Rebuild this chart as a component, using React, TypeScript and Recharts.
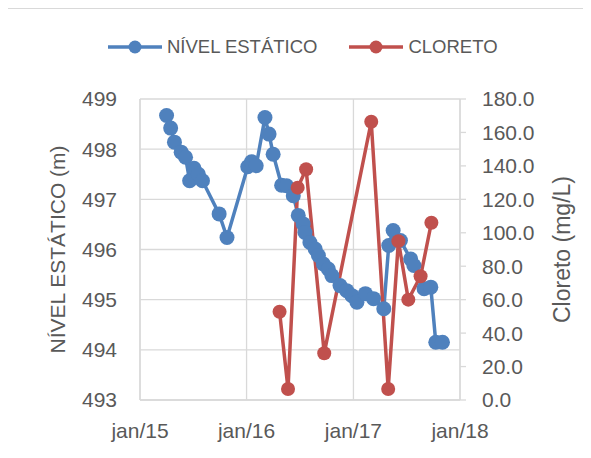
import { LineChart, Line, XAxis, YAxis, CartesianGrid } from 'recharts';

// nível estático (m), eixo da esquerda
const nivelDates = [
  '2015-04-02', '2015-04-16', '2015-04-29', '2015-05-22', '2015-06-06',
  '2015-06-20', '2015-07-05', '2015-07-20', '2015-08-03', '2015-09-29',
  '2015-10-26', '2016-01-05', '2016-01-18', '2016-02-03', '2016-03-04',
  '2016-03-18', '2016-04-01', '2016-04-30', '2016-05-17', '2016-06-09',
  '2016-06-26', '2016-07-13', '2016-07-19', '2016-08-05', '2016-08-23',
  '2016-09-03', '2016-09-20', '2016-10-07', '2016-10-19', '2016-11-16',
  '2016-12-09', '2016-12-27', '2017-01-13', '2017-02-11', '2017-03-11',
  '2017-04-15', '2017-05-02', '2017-05-17', '2017-06-11', '2017-07-16',
  '2017-07-27', '2017-08-31', '2017-09-23', '2017-10-10', '2017-11-02',
];
const nivelValues = [
  498.67, 498.42, 498.14, 497.94, 497.84,
  497.37, 497.62, 497.5, 497.37, 496.71,
  496.24, 497.65, 497.75, 497.67, 498.63,
  498.3, 497.9, 497.28, 497.27, 497.07,
  496.68, 496.51, 496.34, 496.14, 496.01,
  495.88, 495.71, 495.61, 495.48, 495.28,
  495.18, 495.08, 494.95, 495.12, 495.02,
  494.82, 496.08, 496.38, 496.18, 495.81,
  495.68, 495.22, 495.25, 494.15, 494.15,
];

// cloreto (mg/L), eixo da direita
const cloretoDates = [
  '2016-04-23', '2016-05-22', '2016-06-24', '2016-07-23', '2016-09-23',
  '2017-03-03', '2017-04-30', '2017-06-04', '2017-07-08', '2017-08-19',
  '2017-09-25',
];
const cloretoValues = [52.8, 6.6, 127, 138, 28, 166.4, 6.6, 95, 60, 74, 106];

const xTicks = ['2015-01-01', '2016-01-01', '2017-01-01', '2018-01-01'];
const leftTicks = [493, 494, 495, 496, 497, 498, 499];
const rightTicks = [0, 20, 40, 60, 80, 100, 120, 140, 160, 180];

const BLUE = '#4F81BD';
const RED = '#C0504D';
const TEXT = '#595959';
const GRID = '#D9D9D9';
const FONT = '"Liberation Sans", Arial, sans-serif';

const toTime = (s: string) => new Date(s + 'T00:00:00Z').getTime();

const rows = [
  ...nivelDates.map((d, i) => ({ t: toTime(d), nivel: nivelValues[i] })),
  ...cloretoDates.map((d, i) => ({ t: toTime(d), cloreto: cloretoValues[i] })),
].sort((a, b) => a.t - b.t);

const legendItems = [
  { name: 'NÍVEL ESTÁTICO', color: BLUE },
  { name: 'CLORETO', color: RED },
];

const LegendIcon = ({ color }: { color: string }) => (
  <svg width={54} height={20}>
    <line x1={0} y1={10} x2={54} y2={10} stroke={color} strokeWidth={3.5} />
    <circle cx={27} cy={10} r={6.5} fill={color} />
  </svg>
);

export default function App() {
  return (
    <div style={{ position: 'relative', width: 575, height: 442, overflow: 'hidden', fontFamily: FONT }}>
      <div
        style={{
          position: 'absolute', left: -1, top: 0, width: 620, height: 520,
          border: '1px solid #D9D9D9', boxSizing: 'border-box',
        }}
      />
      <div
        style={{
          position: 'absolute', left: 100, top: 28, display: 'flex', alignItems: 'center',
          gap: 32, color: TEXT, fontSize: 18.5,
        }}
      >
        {legendItems.map((it) => (
          <div key={it.name} style={{ display: 'flex', alignItems: 'center' }}>
            <LegendIcon color={it.color} />
            <span style={{ marginLeft: 5 }}>{it.name}</span>
          </div>
        ))}
      </div>
      <div style={{ position: 'absolute', left: 0, top: 0 }}>
        <LineChart width={575} height={442} data={rows} margin={{ top: 91, right: 0, left: 0, bottom: 0 }}>
          <CartesianGrid yAxisId="left" stroke={GRID} strokeWidth={1.3} />
          <XAxis
            dataKey="t"
            type="number"
            domain={[toTime(xTicks[0]), toTime(xTicks[3])]}
            ticks={xTicks.map(toTime)}
            tickFormatter={(v: number) => 'jan/' + String(new Date(v).getUTCFullYear()).slice(2)}
            height={50}
            axisLine={{ stroke: GRID, strokeWidth: 1.3 }}
            tickLine={false}
            tickSize={0}
            tickMargin={23}
            tick={{ fill: TEXT, fontSize: 21, fontFamily: FONT }}
          />
          <YAxis
            yAxisId="left"
            orientation="left"
            domain={[493, 499]}
            ticks={leftTicks}
            width={132}
            axisLine={{ stroke: GRID, strokeWidth: 1.3 }}
            tickLine={false}
            tickSize={0}
            tickMargin={23}
            tick={{ fill: TEXT, fontSize: 21, fontFamily: FONT }}
            label={{
              value: 'NÍVEL ESTÁTICO (m)', angle: -90, position: 'center', dx: -16,
              fill: TEXT, fontSize: 21, fontFamily: FONT,
            }}
          />
          <YAxis
            yAxisId="right"
            orientation="right"
            domain={[0, 180]}
            ticks={rightTicks}
            width={123}
            axisLine={{ stroke: GRID, strokeWidth: 1.3 }}
            tickLine={{ stroke: GRID, strokeWidth: 1.3 }}
            tickSize={6}
            tickMargin={16}
            tickFormatter={(v: number) => v.toFixed(1)}
            tick={{ fill: TEXT, fontSize: 21, fontFamily: FONT }}
            label={{
              value: 'Cloreto (mg/L)', angle: -90, position: 'center', dx: 40,
              fill: TEXT, fontSize: 23, fontFamily: FONT,
            }}
          />
          <Line
            yAxisId="left"
            type="linear"
            dataKey="nivel"
            stroke={BLUE}
            strokeWidth={3.5}
            dot={{ r: 7.5, fill: BLUE, stroke: BLUE, strokeWidth: 0 }}
            connectNulls
            isAnimationActive={false}
          />
          <Line
            yAxisId="right"
            type="linear"
            dataKey="cloreto"
            stroke={RED}
            strokeWidth={3.5}
            dot={{ r: 7, fill: RED, stroke: RED, strokeWidth: 0 }}
            connectNulls
            isAnimationActive={false}
          />
        </LineChart>
      </div>
    </div>
  );
}
